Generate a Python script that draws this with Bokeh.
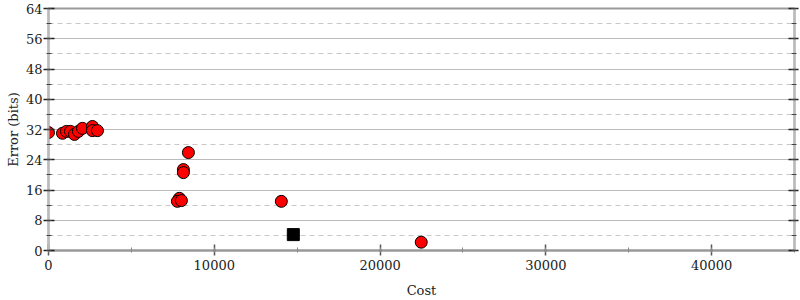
from bokeh.plotting import figure
from bokeh.models import LinearAxis, SingleIntervalTicker, Range1d, CustomLabelingPolicy
from bokeh.embed import file_html
from bokeh.resources import INLINE

# data
cost = [0, 844, 1085, 1326, 1567, 1808, 2049, 2652, 2652, 2954,
        8439, 8137, 8137, 7896, 7775, 8017, 14045, 22484]
error = [31.2, 31.0, 31.5, 31.5, 30.7, 31.5, 32.3, 32.8, 31.7, 31.7,
         25.9, 21.4, 20.6, 13.8, 13.0, 13.2, 13.0, 2.2]
best_cost = [14768]
best_error = [4.2]

FONT = "DejaVu Serif"

p = figure(width=800, height=300, output_backend="svg", toolbar_location=None,
           x_range=Range1d(0, 45000), y_range=Range1d(0, 64),
           min_border_left=48, min_border_right=6, min_border_top=8, min_border_bottom=50,
           background_fill_color="white", border_fill_color="white")
p.outline_line_color = "#999999"
p.outline_line_width = 2

p.xaxis.ticker = SingleIntervalTicker(interval=10000, num_minor_ticks=2)
p.yaxis.ticker = SingleIntervalTicker(interval=8, num_minor_ticks=2)
p.xgrid.visible = False
p.ygrid.ticker = SingleIntervalTicker(interval=8, num_minor_ticks=2)
p.ygrid.grid_line_color = "#bbbbbb"
p.ygrid.grid_line_width = 1
p.ygrid.minor_grid_line_color = "#c8c8c8"
p.ygrid.minor_grid_line_dash = "5 4"

for ax in (p.xaxis[0], p.yaxis[0]):
    ax.major_label_text_font = FONT
    ax.major_label_text_font_size = "13px"
    ax.major_label_text_color = "#222222"
    ax.axis_label_text_font = FONT
    ax.axis_label_text_font_size = "13px"
    ax.axis_label_text_font_style = "normal"
    ax.axis_label_text_color = "#222222"
    ax.major_tick_in = 6
    ax.major_tick_out = 5
    ax.minor_tick_in = 3
    ax.minor_tick_out = 2
    ax.major_tick_line_color = "#222222"
    ax.major_tick_line_width = 1.5
    ax.minor_tick_line_color = "#444444"

p.xaxis.axis_label = "Cost"
p.yaxis.axis_label = "Error (bits)"
p.xaxis.axis_line_color = "#999999"
p.xaxis.axis_line_width = 2
p.xaxis.major_tick_line_color = "#555555"
p.xaxis.minor_tick_line_color = "#888888"
p.yaxis.axis_line_color = "#bbbbbb"
p.yaxis.axis_line_width = 2
p.xaxis.axis_label_standoff = 10
p.yaxis.axis_label_standoff = 2
p.xaxis.major_label_standoff = 4
p.yaxis.major_label_standoff = 1

right = LinearAxis(ticker=SingleIntervalTicker(interval=8, num_minor_ticks=2))
right.major_label_policy = CustomLabelingPolicy(
    code="for (const i of Array.from(indices)) indices.unset(i); return indices")
right.major_label_text_font_size = "0px"
right.axis_line_color = "#bbbbbb"
right.axis_line_width = 2
right.major_tick_in = 6
right.major_tick_out = 4
right.minor_tick_in = 3
right.minor_tick_out = 2
right.major_tick_line_color = "#222222"
right.major_tick_line_width = 1.5
right.minor_tick_line_color = "#444444"
right.major_label_standoff = 0
p.add_layout(right, "right")

p.scatter(cost, error, marker="circle", size=12, fill_color="#ff0000",
          line_color="#000000", line_width=1)
p.scatter(best_cost, best_error, marker="square", size=12, fill_color="#000000",
          line_color="#000000")

open("out.html", "w").write(file_html(p, INLINE))
